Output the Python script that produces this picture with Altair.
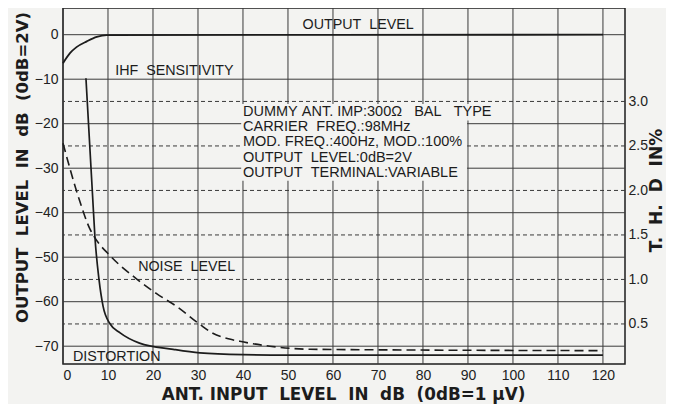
import altair as alt
import pandas as pd

# ---- data ----
out_x = [0, 1.6, 3.0, 5.3, 7.5, 9.7, 120]
out_y = [-6.4, -4.1, -2.8, -1.5, -0.5, -0.1, 0]

dist_x = [5.1, 6.6, 7.1, 8.0, 8.9, 10.4, 12.7, 17, 24.5, 30.4, 40, 50, 120]
dist_y = [-9.8, -36.7, -45.5, -55, -61, -64.9, -67, -69.3, -70.7, -71.5, -71.9, -72, -72]

noise_x = [0, 3.5, 6, 7, 10.4, 16.4, 20.8, 25.3, 30.4, 33.3, 37, 39.3, 46, 55, 120]
noise_y = [-24.4, -36.7, -43.7, -45.5, -49.6, -54.9, -58.2, -61.1, -65.1, -67.1, -68.4, -68.9, -70, -70.7, -71]

x_ticks = list(range(0, 121, 10))
y_ticks = [0, -10, -20, -30, -40, -50, -60, -70]
thd_ticks_db = [-15, -25, -35, -45, -55, -65]  # T.H.D 3.0 ... 0.5 %

S = "\u00a0"  # wide spacing as in the printed chart
label_text = ["OUTPUT" + S * 2 + "LEVEL", "IHF" + S * 2 + "SENSITIVITY",
              "NOISE" + S * 2 + "LEVEL", "DISTORTION"]
label_x = [65.6, 11.6, 16.7, 2.2]
label_y = [2.2, -8.2, -52.2, -72.4]
label_align = ["center", "left", "left", "left"]

note_text = [
    "DUMMY" + S + "ANT." + S + "IMP:300\u03a9" + S * 3 + "BAL" + S * 3 + "TYPE",
    "CARRIER" + S * 2 + "FREQ.:98MHz",
    "MOD." + S + "FREQ.:400Hz," + S + "MOD.:100%",
    "OUTPUT" + S * 2 + "LEVEL:0dB=2V",
    "OUTPUT" + S * 2 + "TERMINAL:VARIABLE",
]
note_x = [40, 40, 40, 40, 40]
note_y = [-17.3, -20.7, -24.2, -27.8, -31.1]

mask_x = [39.6, 89.8]
mask_x2 = [89.8, 98.5]
mask_y = [-15.6, -15.6]
mask_y2 = [-32.8, -19.3]

BG = "#f3f3f1"
INK = "#1c1c1c"
GRID = "#3a3a3a"
FONT = "Liberation Sans"
TFONT = "DejaVu Sans"

xs = alt.Scale(domain=[0, 124.9], nice=False, zero=False)
ys = alt.Scale(domain=[-74.0, 6.0], nice=False, zero=False)

df_out = pd.DataFrame({"x": out_x, "y": out_y})
df_dist = pd.DataFrame({"x": dist_x, "y": dist_y})
df_noise = pd.DataFrame({"x": noise_x, "y": noise_y})
df_lab = pd.DataFrame({"t": label_text, "x": label_x, "y": label_y, "a": label_align})
df_note = pd.DataFrame({"t": note_text, "x": note_x, "y": note_y})
df_mask = pd.DataFrame({"x": mask_x, "x2": mask_x2, "y": mask_y, "y2": mask_y2})
df_xg = pd.DataFrame({"x": x_ticks})
df_yg = pd.DataFrame({"y": y_ticks})
df_tg = pd.DataFrame({"y": thd_ticks_db})

x_axis = alt.Axis(
    values=x_ticks, grid=False, ticks=False, domain=False, labelPadding=4,
    labelFontSize=14,
    title="ANT." + S + "INPUT" + S * 2 + "LEVEL" + S * 2 + "IN" + S * 2 + "dB" + S * 2 + "(0dB=1" + S + "\u03bcV)",
    titleFontSize=16.8, titleFont=TFONT, titleFontWeight="bold",
    titleX=280, titleY=30, titleBaseline="middle", titleAlign="center",
)
y_left = alt.Axis(
    values=y_ticks, grid=False, ticks=False, domain=False, labelPadding=5,
    labelFontSize=14,
    labelExpr="datum.value == 0 ? '0' : '\u2212' + abs(datum.value)",
    title="OUTPUT" + S * 2 + "LEVEL" + S * 2 + "IN" + S * 2 + "dB" + S * 2 + "(0dB=2V)",
    titleFontSize=16.5, titleFontWeight="bold", titleFont=TFONT,
    titleAngle=270, titleX=-41, titleY=159, titleAlign="center", titleBaseline="middle",
)
y_right = alt.Axis(
    orient="right", values=thd_ticks_db, grid=False, ticks=False, domain=False,
    labelPadding=3, labelFontSize=14,
    labelExpr="format((datum.value + 75) / 20, '.1f')",
    title="T." + S * 2 + "H." + S * 2 + "D" + S * 2 + "IN%", titleFontSize=17,
    titleFontWeight="bold", titleFont=TFONT,
    titleAngle=270, titleX=31, titleY=182, titleAlign="center", titleBaseline="middle",
)

vgrid = alt.Chart(df_xg).mark_rule(color=GRID, strokeWidth=1).encode(
    x=alt.X("x:Q", scale=xs, axis=x_axis),
)
hgrid = alt.Chart(df_yg).mark_rule(color=GRID, strokeWidth=1).encode(
    y=alt.Y("y:Q", scale=ys, axis=y_left),
)
tgrid = alt.Chart(df_tg).mark_rule(color=GRID, strokeWidth=1, strokeDash=[4, 3]).encode(
    y=alt.Y("y:Q", scale=ys, axis=y_right),
)

mask = alt.Chart(df_mask).mark_rect(color=BG, opacity=1).encode(
    x=alt.X("x:Q", scale=xs, axis=None), x2="x2:Q",
    y=alt.Y("y:Q", scale=ys, axis=None), y2="y2:Q",
)

out_line = alt.Chart(df_out).mark_line(
    color=INK, strokeWidth=1.8, interpolate="monotone"
).encode(
    x=alt.X("x:Q", scale=xs, axis=None),
    y=alt.Y("y:Q", scale=ys, axis=None),
)

noise_line = alt.Chart(df_noise).mark_line(
    color=INK, strokeWidth=1.6, strokeDash=[9, 5], interpolate="monotone"
).encode(
    x=alt.X("x:Q", scale=xs, axis=None),
    y=alt.Y("y:Q", scale=ys, axis=None),
)

dist_line = alt.Chart(df_dist).mark_line(
    color=INK, strokeWidth=1.7, interpolate="monotone"
).encode(
    x=alt.X("x:Q", scale=xs, axis=None),
    y=alt.Y("y:Q", scale=ys, axis=None),
)

lab_left = alt.Chart(df_lab[df_lab.a == "left"]).mark_text(
    font=FONT, fontSize=14.3, color=INK, baseline="middle", align="left"
).encode(
    x=alt.X("x:Q", scale=xs, axis=None),
    y=alt.Y("y:Q", scale=ys, axis=None),
    text="t:N",
)
lab_center = alt.Chart(df_lab[df_lab.a == "center"]).mark_text(
    font=FONT, fontSize=14.3, color=INK, baseline="middle", align="center"
).encode(
    x=alt.X("x:Q", scale=xs, axis=None),
    y=alt.Y("y:Q", scale=ys, axis=None),
    text="t:N",
)
notes = alt.Chart(df_note).mark_text(
    font=FONT, fontSize=14.5, color=INK, baseline="middle", align="left"
).encode(
    x=alt.X("x:Q", scale=xs, axis=None),
    y=alt.Y("y:Q", scale=ys, axis=None),
    text="t:N",
)

chart = alt.layer(
    vgrid, hgrid, tgrid, mask, out_line, noise_line, dist_line,
    lab_left, lab_center, notes
).resolve_axis(x="independent", y="independent").properties(
    width=562, height=356,
    autosize=alt.AutoSizeParams(type="none"),
    padding={"left": 55, "top": 0, "right": 41, "bottom": 40},
    background=BG,
).configure_view(
    stroke=INK, strokeWidth=1.5
).configure_axis(
    labelFont=FONT, titleFont=TFONT, labelColor="#222222", titleColor=INK,
)

chart.save("out.html", embed_options={"renderer": "svg", "actions": False})
